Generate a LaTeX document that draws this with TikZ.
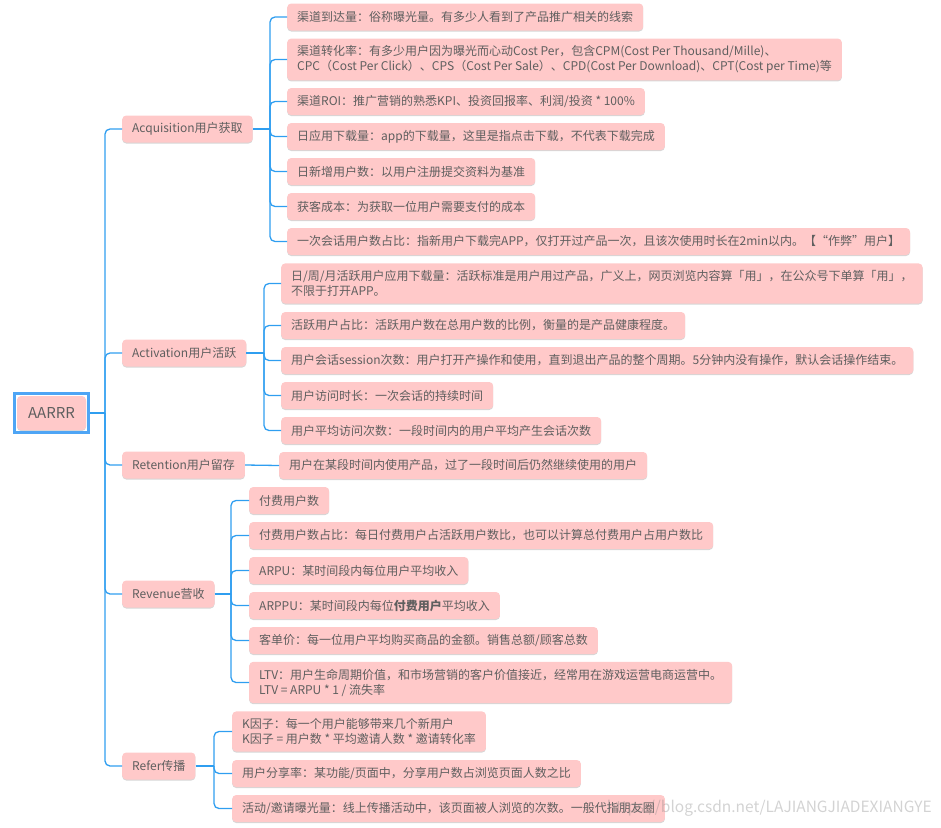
\documentclass[tikz,border=0pt]{standalone}
\usepackage{fontspec}
\setmainfont{Noto Sans CJK SC}
\usetikzlibrary{fit,shadows}

\definecolor{boxpink}{RGB}{255,201,201}
\definecolor{txtgray}{RGB}{95,95,95}
\definecolor{linkblue}{RGB}{47,158,240}
\definecolor{frameblue}{RGB}{78,165,245}

\begin{document}
\begin{tikzpicture}[
        x=1pt, y=-1pt,
        topic/.style={rectangle, rounded corners=4pt, fill=boxpink, text=txtgray,
            font=\fontsize{12}{15}\selectfont, align=left, anchor=west,
            inner xsep=10pt, inner ysep=7pt, minimum height=27pt,
            drop shadow={shadow xshift=0pt, shadow yshift=-1pt, fill=black!16, opacity=1}},
        central/.style={topic, anchor=center, font=\fontsize{15}{18}\selectfont,
            minimum width=69pt, minimum height=34pt},
        selframe/.style={draw=frameblue, line width=3pt, inner sep=2.5pt},
        link/.style={draw=linkblue, line width=1.3pt, rounded corners=5pt},
        rootlink/.style={draw=linkblue, line width=2.5pt}
    ]
        \useasboundingbox (0,0) rectangle (941,827);

        % Root
        \node[central] (root) at (51.5,413) {AARRR};
        \node[selframe, fit=(root)] (rootsel) {};
        \coordinate (trunk) at (105,413);

        % Stages
        \node[topic] (acq) at (122,129) {Acquisition用户获取};
        \node[topic] (act) at (122,353) {Activation用户活跃};
        \node[topic] (ret) at (122,465) {Retention用户留存};
        \node[topic] (rev) at (122,594) {Revenue营收};
        \node[topic] (ref) at (122,766) {Refer传播};

        % Acquisition
        \node[topic] (acq1) at (287,17) {渠道到达量：俗称曝光量。有多少人看到了产品推广相关的线索};
        \node[topic] (acq2) at (287,59.5) {渠道转化率：有多少用户因为曝光而心动Cost Per，包含CPM(Cost Per Thousand/Mille)、\\CPC（Cost Per Click）、CPS（Cost Per Sale）、CPD(Cost Per Download)、CPT(Cost per Time)等};
        \node[topic] (acq3) at (287,101.5) {渠道ROI：推广营销的熟悉KPI、投资回报率、利润/投资 * 100\%};
        \node[topic] (acq4) at (287,136.5) {日应用下载量：app的下载量，这里是指点击下载，不代表下载完成};
        \node[topic] (acq5) at (287,171.5) {日新增用户数：以用户注册提交资料为基准};
        \node[topic] (acq6) at (287,206.5) {获客成本：为获取一位用户需要支付的成本};
        \node[topic] (acq7) at (287,241.5) {一次会话用户数占比：指新用户下载完APP，仅打开过产品一次，且该次使用时长在2min以内。【“作弊”用户】};

        % Activation
        \node[topic] (act1) at (281,283.5) {日/周/月活跃用户应用下载量：活跃标准是用户用过产品，广义上，网页浏览内容算「用」，在公众号下单算「用」，\\不限于打开APP。};
        \node[topic] (act2) at (281,325.5) {活跃用户占比：活跃用户数在总用户数的比例，衡量的是产品健康程度。};
        \node[topic] (act3) at (281,360.5) {用户会话session次数：用户打开产操作和使用，直到退出产品的整个周期。5分钟内没有操作，默认会话操作结束。};
        \node[topic] (act4) at (281,395.5) {用户访问时长：一次会话的持续时间};
        \node[topic] (act5) at (281,430.5) {用户平均访问次数：一段时间内的用户平均产生会话次数};

        % Retention
        \node[topic] (ret1) at (279,465.5) {用户在某段时间内使用产品，过了一段时间后仍然继续使用的用户};

        % Revenue
        \node[topic] (rev1) at (249,500.5) {付费用户数};
        \node[topic] (rev2) at (249,535.5) {付费用户数占比：每日付费用户占活跃用户数比，也可以计算总付费用户占用户数比};
        \node[topic] (rev3) at (249,570.5) {ARPU：某时间段内每位用户平均收入};
        \node[topic] (rev4) at (249,605.5) {ARPPU：某时间段内每位\textbf{付费用户}平均收入};
        \node[topic] (rev5) at (249,640.5) {客单价：每一位用户平均购买商品的金额。销售总额/顾客总数};
        \node[topic] (rev6) at (249,682.5) {LTV：用户生命周期价值，和市场营销的客户价值接近，经常用在游戏运营电商运营中。\\LTV = ARPU * 1 / 流失率};

        % Refer
        \node[topic] (ref1) at (232,731.5) {K因子：每一个用户能够带来几个新用户\\K因子 = 用户数 * 平均邀请人数 * 邀请转化率};
        \node[topic] (ref2) at (232,773.5) {用户分享率：某功能/页面中，分享用户数占浏览页面人数之比};
        \node[topic] (ref3) at (232,808.5) {活动/邀请曝光量：线上传播活动中，该页面被人浏览的次数。一般代指朋友圈};

        % Trunk
        \draw[rootlink] (rootsel.east) -- (trunk);
        \foreach \s in {acq,act,ret,rev,ref}
            \draw[link] (trunk) |- (\s.west);

        % Branches
        \coordinate (acqj) at (270,129);
        \coordinate (actj) at (264,353);
        \coordinate (revj) at (231,594);
        \coordinate (refj) at (214,766);
        \draw[link] (acq.east) -- (acqj);
        \draw[link] (act.east) -- (actj);
        \draw[link] (rev.east) -- (revj);
        \draw[link] (ref.east) -- (refj);
        \foreach \i in {1,...,7}
            \draw[link] (acqj) |- (acq\i.west);
        \foreach \i in {1,...,5}
            \draw[link] (actj) |- (act\i.west);
        \draw[link] (ret.east) -- (ret1.west);
        \foreach \i in {1,...,6}
            \draw[link] (revj) |- (rev\i.west);
        \foreach \i in {1,...,3}
            \draw[link] (refj) |- (ref\i.west);

        % Watermark
        \node[text=gray, opacity=0.35, font=\fontsize{15.5}{17}\selectfont, anchor=east, inner sep=0pt] (wm) at (932,808) {https://blog.csdn.net/LAJIANGJIADEXIANGYE};
    \end{tikzpicture}
\end{document}
